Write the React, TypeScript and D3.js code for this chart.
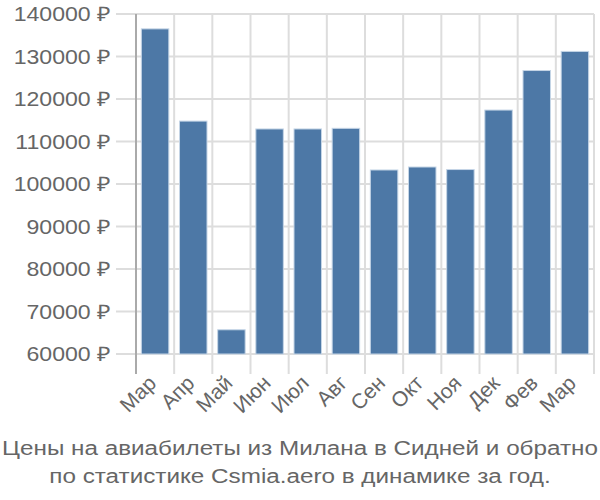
import React from "react";
import * as d3 from "d3";

const months = ["Мар", "Апр", "Май", "Июн", "Июл", "Авг", "Сен", "Окт", "Ноя", "Дек", "Фев", "Мар"];
const prices = [136500, 114800, 65700, 112950, 112950, 113100, 103300, 104000, 103400, 117400, 126700, 131200];
const yTicks = [60000, 70000, 80000, 90000, 100000, 110000, 120000, 130000, 140000];
const titleLines = [
  "Цены на авиабилеты из Милана в Сидней и обратно",
  "по статистике Csmia.aero в динамике за год.",
];

export default function App() {
  const W = 600, H = 500;
  const left = 136, right = 594, top = 14, bottom = 354;
  const sx = 1.155;
  const x = d3.scaleBand<number>().domain(d3.range(months.length)).range([left, right]).paddingInner(0.28).paddingOuter(0.14);
  const step = (right - left) / months.length;
  const y = d3.scaleLinear().domain([60000, 140000]).range([bottom, top]);
  const font = "'Liberation Sans', Arial, sans-serif";
  return (
    <svg width={W} height={H} style={{ position: "absolute", left: 0, top: 0 }} fontFamily={font}>
      <rect width={W} height={H} fill="#fff" />
      {yTicks.map((t) => (
        <g key={t}>
          <line x1={116} x2={right} y1={y(t)} y2={y(t)} stroke="#dddddd" strokeWidth={2} />
          <text transform={`translate(111 ${y(t)}) scale(${sx} 1)`} dy="0.35em" textAnchor="end" fontSize={20} fill="#666">
            {t} ₽
          </text>
        </g>
      ))}
      {d3.range(months.length + 1).map((i) => (
        <line key={i} x1={left + i * step} x2={left + i * step} y1={top} y2={bottom + 20} stroke={i === 0 ? "#aaaaaa" : "#dddddd"} strokeWidth={2} />
      ))}
      {prices.map((v, i) => (
        <rect key={i} x={x(i)} y={y(v)} width={x.bandwidth()} height={bottom - y(v)} fill="#4d78a6" stroke="#c5d5e6" strokeWidth={1} />
      ))}
      {months.map((m, i) => {
        const cx = left + (i + 0.5) * step - 8;
        const cy = 374;
        return (
          <text key={i} transform={`translate(${cx} ${cy}) rotate(-45)`} textAnchor="end" dy="0.7em" fontSize={21} fill="#666">
            {m}
          </text>
        );
      })}
      {titleLines.map((l, i) => (
        <text key={i} transform={`translate(300 ${455 + i * 28}) scale(${sx} 1)`} textAnchor="middle" fontSize={21} fill="#666">
          {l}
        </text>
      ))}
    </svg>
  );
}
